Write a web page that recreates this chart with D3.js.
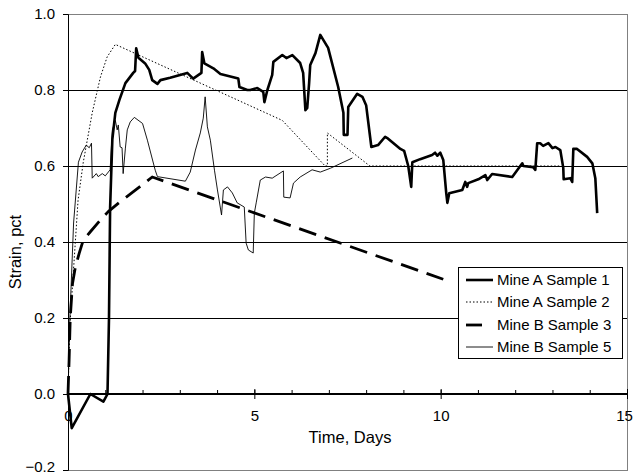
<!DOCTYPE html>
<html><head><meta charset="utf-8">
<script src="https://cdn.jsdelivr.net/npm/d3@7/dist/d3.min.js"></script>
<style>body{margin:0;background:#fff}svg text{font-family:"Liberation Sans",Arial,sans-serif}</style>
</head><body><svg id="c" width="633" height="476"></svg>
<script>
const seriesNames = ["Mine A Sample 1","Mine A Sample 2","Mine B Sample 3","Mine B Sample 5"];
const xTicks = [0,5,10,15];
const yTicks = [-0.2,0,0.2,0.4,0.6,0.8,1.0];

const mineA1 = [[0,0],[0.1,-0.09],[0.6,0],[0.95,-0.02],[1.06,0],[1.1,0.2],[1.13,0.49],[1.19,0.67],[1.27,0.74],[1.38,0.774],[1.54,0.818],[1.75,0.845],[1.8,0.85],[1.83,0.91],[1.89,0.885],[2.07,0.87],[2.18,0.853],[2.26,0.826],[2.40,0.816],[2.48,0.826],[2.74,0.832],[3.20,0.845],[3.36,0.83],[3.58,0.845],[3.60,0.90],[3.66,0.87],[3.90,0.857],[4.09,0.842],[4.57,0.83],[4.60,0.808],[4.81,0.80],[4.89,0.80],[5.08,0.805],[5.24,0.795],[5.27,0.768],[5.35,0.80],[5.48,0.84],[5.51,0.874],[5.75,0.892],[5.86,0.884],[6.02,0.892],[6.23,0.871],[6.31,0.845],[6.37,0.747],[6.42,0.753],[6.47,0.818],[6.50,0.866],[6.64,0.897],[6.77,0.945],[6.85,0.932],[6.98,0.911],[7.25,0.808],[7.39,0.74],[7.40,0.682],[7.50,0.682],[7.52,0.755],[7.76,0.79],[7.90,0.782],[8.0,0.76],[8.14,0.65],[8.32,0.655],[8.51,0.677],[8.59,0.672],[8.92,0.645],[9.02,0.64],[9.13,0.6],[9.21,0.545],[9.24,0.61],[9.45,0.618],[9.77,0.629],[9.85,0.635],[9.91,0.627],[9.99,0.635],[10.07,0.616],[10.15,0.528],[10.18,0.503],[10.23,0.528],[10.58,0.537],[10.66,0.558],[10.71,0.545],[10.74,0.555],[11.01,0.565],[11.20,0.576],[11.25,0.563],[11.38,0.579],[11.92,0.571],[12.19,0.607],[12.22,0.60],[12.48,0.597],[12.54,0.59],[12.59,0.66],[12.67,0.66],[12.75,0.653],[12.89,0.66],[13.00,0.647],[13.08,0.65],[13.21,0.642],[13.29,0.595],[13.30,0.565],[13.48,0.568],[13.53,0.558],[13.56,0.645],[13.66,0.645],[13.93,0.624],[14.07,0.607],[14.15,0.568],[14.20,0.476]];

const mineA2 = [[0,0],[0.05,0.18],[0.15,0.33],[0.27,0.51],[0.41,0.61],[0.65,0.74],[0.87,0.834],[1.05,0.887],[1.27,0.92],[5.75,0.72],[6.9,0.60],[6.96,0.60],[6.96,0.687],[8.1,0.60],[13.2,0.60]];

const mineB3 = [[0,0],[0.03,0.09],[0.06,0.2],[0.12,0.29],[0.2,0.335],[0.3,0.37],[0.41,0.405],[0.6,0.427],[0.87,0.458],[1.08,0.48],[1.40,0.506],[1.99,0.55],[2.26,0.571],[10.07,0.302]];

const mineB5 = [[0,0],[0.05,0.2],[0.15,0.45],[0.28,0.61],[0.38,0.637],[0.49,0.655],[0.57,0.648],[0.63,0.66],[0.65,0.568],[0.76,0.58],[0.81,0.572],[0.92,0.58],[1.0,0.574],[1.13,0.59],[1.19,0.695],[1.27,0.72],[1.32,0.695],[1.35,0.708],[1.40,0.65],[1.45,0.648],[1.48,0.58],[1.54,0.647],[1.59,0.695],[1.67,0.716],[1.78,0.728],[2.0,0.712],[2.13,0.668],[2.34,0.589],[2.40,0.572],[3.15,0.56],[3.28,0.584],[3.42,0.642],[3.55,0.687],[3.63,0.726],[3.68,0.782],[3.74,0.703],[3.82,0.668],[3.93,0.589],[4.01,0.537],[4.12,0.471],[4.17,0.537],[4.28,0.545],[4.41,0.529],[4.54,0.503],[4.73,0.492],[4.78,0.397],[4.84,0.379],[4.97,0.371],[5.0,0.476],[5.05,0.503],[5.16,0.563],[5.30,0.571],[5.48,0.568],[5.78,0.587],[5.79,0.518],[5.96,0.516],[6.05,0.555],[6.23,0.571],[6.55,0.59],[6.77,0.584],[7.04,0.594],[7.63,0.621]];

const svg = d3.select("#c");
const L = 68, R = 627, T = 14, B = 470;
const x = d3.scaleLinear().domain([0,15]).range([L,R]);
const y = d3.scaleLinear().domain([-0.2,1.0]).range([B,T]);

// grid lines
svg.append("g").selectAll("line").data([0.2,0.4,0.6,0.8]).join("line")
  .attr("x1",L).attr("x2",R).attr("y1",d=>y(d)).attr("y2",d=>y(d))
  .attr("stroke","#000").attr("stroke-width",1).attr("shape-rendering","crispEdges");
// plot border (grey)
svg.append("rect").attr("x",L).attr("y",T).attr("width",R-L).attr("height",B-T)
  .attr("fill","none").attr("stroke","#808080").attr("stroke-width",1).attr("shape-rendering","crispEdges");

// y axis
const yAxis = d3.axisLeft(y).tickValues(yTicks).tickFormat(d3.format(".1f")).tickSize(5).tickPadding(8);
const gy = svg.append("g").attr("transform",`translate(${L},0)`).call(yAxis);
gy.select(".domain").attr("stroke","#000").attr("stroke-width",1);
gy.selectAll("text").attr("font-size",15).attr("fill","#000");
gy.selectAll(".tick").filter(d=>d===-0.2).select("text").attr("dy","0.1em");

// x axis at y=0
const gxMinor = svg.append("g").attr("transform",`translate(0,${y(0)})`)
  .call(d3.axisTop(x).tickValues(d3.range(0,16)).tickSize(4).tickFormat(""));
gxMinor.select(".domain").remove();
const gx = svg.append("g").attr("transform",`translate(0,${y(0)})`)
  .call(d3.axisBottom(x).tickValues(xTicks).tickSize(4).tickPadding(12).tickFormat(d3.format("d")));
gx.select(".domain").attr("stroke","#000").attr("stroke-width",2).attr("d",`M${L},0H${R}`);
gx.selectAll(".tick line").attr("y1",-5).attr("y2",5);
gx.selectAll("text").attr("font-size",15).attr("fill","#000");
gx.selectAll(".tick").filter(d=>d===15).select("text").attr("dx","-3");

// lines
const line = d3.line().x(d=>x(d[0])).y(d=>y(d[1]));
const styles = [
  {data:mineA1, w:2.6, dash:null},
  {data:mineA2, w:1, dash:"1.5,2"},
  {data:mineB3, w:2.8, dash:"18,9"},
  {data:mineB5, w:0.9, dash:null}
];
[2,1,3,0].forEach(i=>{
  const s = styles[i];
  const p = svg.append("path").datum(s.data).attr("d",line)
    .attr("fill","none").attr("stroke","#000").attr("stroke-width",s.w).attr("stroke-linejoin","round");
  if(s.dash) p.attr("stroke-dasharray",s.dash);
});

// axis titles
svg.append("text").attr("x",350).attr("y",443).attr("text-anchor","middle").attr("font-size",16.5).text("Time, Days");
svg.append("text").attr("transform","translate(21,252) rotate(-90)").attr("text-anchor","middle").attr("font-size",16.5).text("Strain, pct");

// legend
const lg = svg.append("g");
lg.append("rect").attr("x",458.5).attr("y",267.5).attr("width",164).attr("height",91)
  .attr("fill","#fff").attr("stroke","#000").attr("stroke-width",1);
const ly = [280,302,325,347];
seriesNames.forEach((n,i)=>{
  const s = styles[i];
  const x1 = 466, x2 = i===2 ? 482 : 493;
  const l = lg.append("line").attr("x1",x1).attr("x2",x2).attr("y1",ly[i]).attr("y2",ly[i])
    .attr("stroke","#000").attr("stroke-width",s.w);
  if(s.dash && i===1) l.attr("stroke-dasharray",s.dash);
  lg.append("text").attr("x",497).attr("y",ly[i]+5.3).attr("font-size",15).text(n);
});
</script></body></html>
